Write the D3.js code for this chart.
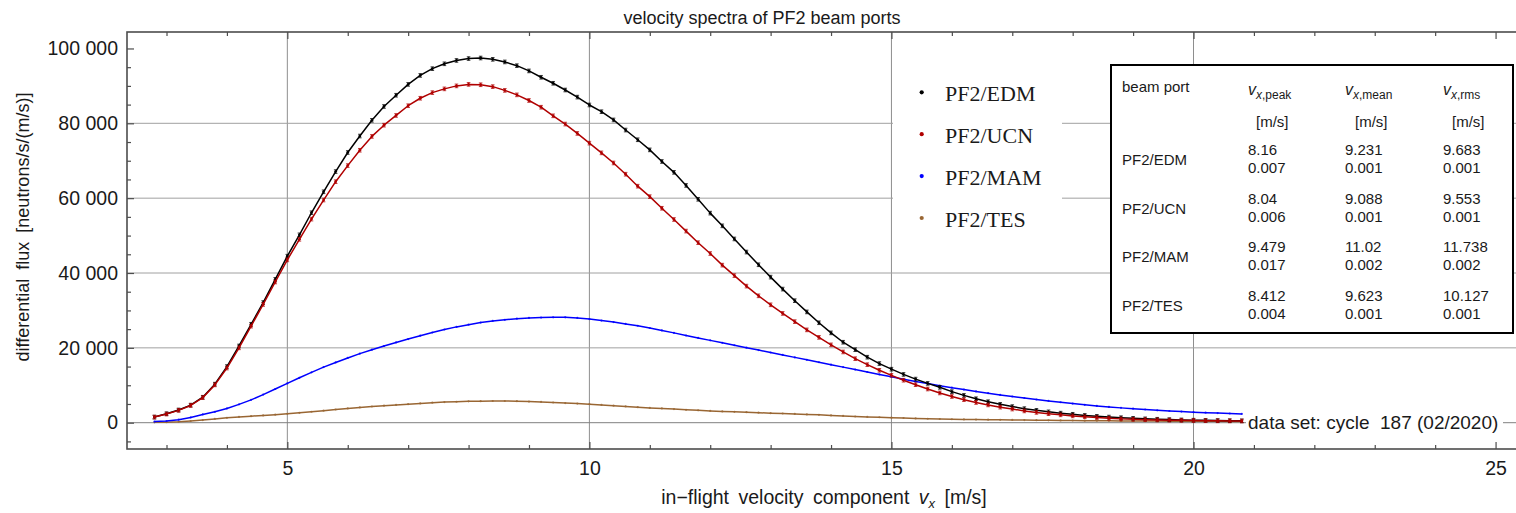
<!DOCTYPE html>
<html>
<head>
<meta charset="utf-8">
<script src="https://cdn.jsdelivr.net/npm/d3@7"></script>
<style>
  body { margin: 0; background: #fff; }
  svg { display: block; }
  text { font-family: "Liberation Sans", Arial, Helvetica, sans-serif; fill: #1a1a1a; }
</style>
</head>
<body>
<svg id="chart" width="1516" height="513"></svg>
<script>
// In-flight velocity component v_x [m/s] of each sample
const velocity = [
  2.8, 3.0, 3.2, 3.4, 3.6, 3.8, 4.0, 4.2, 4.4, 4.6,
  4.8, 5.0, 5.2, 5.4, 5.6, 5.8, 6.0, 6.2, 6.4, 6.6,
  6.8, 7.0, 7.2, 7.4, 7.6, 7.8, 8.0, 8.2, 8.4, 8.6,
  8.8, 9.0, 9.2, 9.4, 9.6, 9.8, 10.0, 10.2, 10.4, 10.6,
  10.8, 11.0, 11.2, 11.4, 11.6, 11.8, 12.0, 12.2, 12.4, 12.6,
  12.8, 13.0, 13.2, 13.4, 13.6, 13.8, 14.0, 14.2, 14.4, 14.6,
  14.8, 15.0, 15.2, 15.4, 15.6, 15.8, 16.0, 16.2, 16.4, 16.6,
  16.8, 17.0, 17.2, 17.4, 17.6, 17.8, 18.0, 18.2, 18.4, 18.6,
  18.8, 19.0, 19.2, 19.4, 19.6, 19.8, 20.0, 20.2, 20.4, 20.6,
  20.8
];

// Differential flux [neutrons/s/(m/s)] per beam port
const fluxEDM = [
  1500, 2400, 3400, 4700, 6800, 10300, 15000, 20500, 26300, 32100,
  38300, 44500, 50200, 56100, 61700, 67100, 72200, 76600, 80800, 84500,
  87500, 90400, 92800, 94600, 95900, 96800, 97300, 97450, 97100, 96400,
  95400, 94000, 92300, 90700, 88900, 87000, 84900, 83100, 80900, 78200,
  75600, 72900, 69800, 66900, 63400, 59700, 56000, 52600, 49100, 45600,
  42200, 38900, 35700, 32600, 29600, 26700, 24000, 21500, 19500, 17500,
  15800, 14300, 12900, 11650, 10500, 9450, 8300, 7300, 6400, 5600,
  4900, 4300, 3750, 3300, 2900, 2550, 2250, 1950, 1700, 1500,
  1330, 1170, 1030, 920, 820, 740, 670, 620, 575, 535,
  500
];
const fluxUCN = [
  1500, 2300, 3300, 4600, 6700, 10100, 14600, 20000, 25800, 31600,
  37600, 43500, 49000, 54400, 59500, 64400, 68700, 72800, 76500, 79500,
  82100, 84700, 86700, 88200, 89200, 90000, 90400, 90300, 89800, 88800,
  87600, 86100, 84300, 82000, 79800, 77300, 74700, 72100, 69400, 66400,
  63200, 60400, 57300, 54300, 51200, 48100, 45200, 42100, 39300, 36500,
  33900, 31500, 29200, 27000, 24800, 22800, 20800, 18900, 17100, 15500,
  14000, 12650, 11350, 10150, 9000, 7950, 7000, 6150, 5400, 4750,
  4150, 3650, 3150, 2750, 2400, 2100, 1820, 1580, 1370, 1180,
  1020, 900, 810, 740, 680, 630, 585, 545, 505, 475,
  450
];
const fluxMAM = [
  300, 450, 800, 1400, 2200, 2900, 3800, 4900, 6100, 7500,
  9000, 10500, 12000, 13450, 14850, 16100, 17300, 18450, 19500, 20500,
  21450, 22350, 23250, 24100, 24900, 25600, 26200, 26750, 27200, 27500,
  27800, 28000, 28100, 28150, 28150, 28000, 27700, 27300, 26900, 26400,
  25900, 25300, 24650, 24000, 23300, 22650, 22000, 21350, 20700, 20050,
  19400, 18750, 18100, 17450, 16800, 16150, 15500, 14850, 14200, 13550,
  12900, 12250, 11600, 11000, 10450, 9900, 9350, 8850, 8350, 7880,
  7420, 7000, 6600, 6200, 5820, 5460, 5110, 4780, 4470, 4200,
  3960, 3740, 3520, 3310, 3130, 2970, 2820, 2680, 2560, 2450,
  2350
];
const fluxTES = [
  100, 150, 250, 450, 700, 1000, 1300, 1550, 1750, 1950,
  2150, 2380, 2640, 2920, 3220, 3520, 3820, 4080, 4330, 4550,
  4750, 4950, 5150, 5350, 5500, 5600, 5700, 5750, 5800, 5800,
  5750, 5650, 5550, 5400, 5250, 5100, 4950, 4750, 4550, 4350,
  4150, 3950, 3800, 3650, 3450, 3300, 3150, 3000, 2900, 2800,
  2680, 2550, 2450, 2330, 2200, 2100, 1950, 1800, 1650, 1550,
  1450, 1350, 1250, 1150, 1050, 980, 920, 880, 840, 800,
  760, 730, 700, 670, 640, 610, 580, 550, 520, 500,
  480, 460, 440, 420, 400, 390, 380, 370, 360, 350,
  340
];

const portNames = ["PF2/EDM", "PF2/UCN", "PF2/MAM", "PF2/TES"];
const portColors = ["#000000", "#b00000", "#0000ff", "#996633"];

// Summary statistics of each spectrum [m/s]
const vPeak = [8.16, 8.04, 9.479, 8.412];
const vPeakErr = [0.007, 0.006, 0.017, 0.004];
const vMean = [9.231, 9.088, 11.02, 9.623];
const vMeanErr = [0.001, 0.001, 0.002, 0.001];
const vRms = [9.683, 9.553, 11.738, 10.127];
const vRmsErr = [0.001, 0.001, 0.002, 0.001];

const xTicks = [5, 10, 15, 20, 25];
const yTicks = [0, 20000, 40000, 60000, 80000, 100000];
const xGridValues = [5, 10, 15, 20];
const yGridValues = [0, 20000, 40000, 60000, 80000];

const dataSetNote = "data set: cycle\u00a0\u00a0187 (02/2020)";
const chartTitle = "velocity spectra of PF2 beam ports";

// ---------------------------------------------------------------
const svg = d3.select("#chart");
const frame = { left: 127, right: 1530, top: 32, bottom: 449 };

const x = d3.scaleLinear().domain([2.346, 25.57]).range([frame.left, frame.right]);
const y = d3.scaleLinear().domain([-7030, 104400]).range([frame.bottom, frame.top]);

const series = [fluxEDM, fluxUCN, fluxMAM, fluxTES].map((vals, i) => ({
  name: portNames[i],
  color: portColors[i],
  points: velocity.map((v, j) => ({ v, f: vals[j] }))
}));

// grid
const grid = svg.append("g").attr("class", "grid");
grid.selectAll("line.gx").data(xGridValues).join("line")
  .attr("x1", d => x(d)).attr("x2", d => x(d))
  .attr("y1", frame.top).attr("y2", frame.bottom)
  .attr("stroke", "#8e8e8e").attr("stroke-width", 1);
grid.selectAll("line.gy").data(yGridValues).join("line")
  .attr("x1", frame.left).attr("x2", frame.right)
  .attr("y1", d => y(d)).attr("y2", d => y(d))
  .attr("stroke", d => d === 0 ? "#808080" : "#a0a0a0").attr("stroke-width", 1);

// curves
const line = d3.line().x(d => x(d.v)).y(d => y(d.f)).curve(d3.curveLinear);
const curves = svg.append("g").attr("class", "curves");
// draw the weaker ports first so EDM/UCN lie on top
[3, 2, 0, 1].forEach(i => {
  const s = series[i];
  const g = curves.append("g");
  g.append("path").datum(s.points)
    .attr("d", line).attr("fill", "none")
    .attr("stroke", s.color).attr("stroke-width", 1.5)
    .attr("stroke-linejoin", "round");
  if (i < 2) {
    // small error-bar markers at every sample
    g.selectAll("path.mk").data(s.points).join("path")
      .attr("d", d => {
        const px = x(d.v), py = y(d.f);
        return `M${px - 1.8},${py - 1.8}h3.6M${px},${py - 1.8}v3.6M${px - 1.8},${py + 1.8}h3.6`;
      })
      .attr("fill", "none").attr("stroke", s.color).attr("stroke-width", 0.9)
      .attr("opacity", 0.85);
  }
  g.selectAll("circle").data(s.points).join("circle")
    .attr("cx", d => x(d.v)).attr("cy", d => y(d.f))
    .attr("r", i < 2 ? 1.4 : 1.1).attr("fill", s.color)
    .attr("opacity", i < 2 ? 1 : 0.8);
});

// frame
svg.append("rect")
  .attr("x", frame.left).attr("y", frame.top)
  .attr("width", frame.right - frame.left).attr("height", frame.bottom - frame.top)
  .attr("fill", "none").attr("stroke", "#4d4d4d").attr("stroke-width", 1.6);

// axes (ticks point inward)
const tickFont = "19.5px";
const xMinor = d3.range(3, 26, 1).filter(v => v % 5 !== 0);
const yMinor = d3.range(-5000, 104001, 5000).filter(v => v % 20000 !== 0);

function styleAxis(g) {
  g.select(".domain").remove();
  g.selectAll(".tick line").attr("stroke", "#4d4d4d").attr("stroke-width", 1.2);
  g.selectAll("text").style("font-size", tickFont).attr("fill", "#1a1a1a");
}

svg.append("g").attr("transform", `translate(0,${frame.bottom})`)
  .call(d3.axisBottom(x).tickValues(xTicks).tickSize(-7).tickPadding(12).tickFormat(d3.format("d")))
  .call(styleAxis);
svg.append("g").attr("transform", `translate(0,${frame.bottom})`)
  .call(d3.axisBottom(x).tickValues(xMinor).tickSize(-4).tickFormat(""))
  .call(styleAxis);
svg.append("g").attr("transform", `translate(0,${frame.top})`)
  .call(d3.axisTop(x).tickValues(xTicks).tickSize(-7).tickFormat(""))
  .call(styleAxis);
svg.append("g").attr("transform", `translate(0,${frame.top})`)
  .call(d3.axisTop(x).tickValues(xMinor).tickSize(-4).tickFormat(""))
  .call(styleAxis);

const yFormat = d => d3.format(",")(d).replace(/,/g, " ");
svg.append("g").attr("transform", `translate(${frame.left},0)`)
  .call(d3.axisLeft(y).tickValues(yTicks).tickSize(-7).tickPadding(9).tickFormat(yFormat))
  .call(styleAxis);
svg.append("g").attr("transform", `translate(${frame.left},0)`)
  .call(d3.axisLeft(y).tickValues(yMinor).tickSize(-4).tickFormat(""))
  .call(styleAxis);

// title and axis labels
svg.append("text")
  .attr("x", 762).attr("y", 24).attr("text-anchor", "middle")
  .style("font-size", "18px").text(chartTitle);

const xLabel = svg.append("text")
  .attr("x", 824).attr("y", 504).attr("text-anchor", "middle")
  .style("font-size", "19.5px").style("word-spacing", "4px");
xLabel.append("tspan").text("in\u2212flight velocity component ");
xLabel.append("tspan").style("font-style", "italic").text("v");
xLabel.append("tspan").attr("dy", 4).style("font-size", "13px").style("font-style", "italic").text("x");
xLabel.append("tspan").attr("dy", -4).text(" [m/s]");

svg.append("text")
  .attr("transform", "translate(29,227) rotate(-90)")
  .attr("text-anchor", "middle")
  .style("font-size", "18px").style("word-spacing", "4px")
  .text("differential flux [neutrons/s/(m/s)]");

// legend
const legend = svg.append("g").attr("class", "legend");
legend.append("rect").attr("x", 893).attr("y", 62).attr("width", 169).attr("height", 180).attr("fill", "#fff");
const legendItem = legend.selectAll("g.item").data(series).join("g")
  .attr("transform", (d, i) => `translate(0,${101 + i * 41.9})`);
legendItem.append("circle").attr("cx", 921.7).attr("cy", -8.7).attr("r", 2.1).attr("fill", d => d.color);
legendItem.append("text").attr("x", 945).attr("y", 0)
  .style("font-family", "'Liberation Serif', 'Times New Roman', serif")
  .style("font-size", "22px").text(d => d.name);

// statistics table
const table = svg.append("g").attr("class", "stats");
table.append("rect").attr("x", 1111).attr("y", 65).attr("width", 402).attr("height", 268)
  .attr("fill", "#fff").attr("stroke", "#000").attr("stroke-width", 2);
const colX = [1248, 1345, 1443];
const unitX = [1256, 1355, 1452];
const colSub = ["peak", "mean", "rms"];
table.append("text").attr("x", 1122).attr("y", 92).style("font-size", "15px").text("beam port");
colX.forEach((cx, k) => {
  const t = table.append("text").attr("x", cx).attr("y", 95).style("font-size", "16px");
  t.append("tspan").style("font-style", "italic").text("v");
  const sub = t.append("tspan").attr("dy", 4).style("font-size", "12px");
  sub.append("tspan").style("font-style", "italic").text("x");
  sub.append("tspan").text("," + colSub[k]);
  table.append("text").attr("x", unitX[k]).attr("y", 127).style("font-size", "15px").text("[m/s]");
});
const stats = [[vPeak, vPeakErr], [vMean, vMeanErr], [vRms, vRmsErr]];
portNames.forEach((name, i) => {
  const base = 155 + i * 48.7;
  table.append("text").attr("x", 1122).attr("y", base + 10).style("font-size", "15px").text(name);
  stats.forEach(([val, err], k) => {
    table.append("text").attr("x", colX[k]).attr("y", base).style("font-size", "15px").text(String(val[i]));
    table.append("text").attr("x", colX[k]).attr("y", base + 18).style("font-size", "15px").text(String(err[i]));
  });
});

// data set note on the zero line
const note = svg.append("g");
note.append("rect").attr("x", 1246).attr("y", 411).attr("width", 257).attr("height", 23).attr("fill", "#fff");
note.append("text").attr("x", 1248).attr("y", 429).style("font-size", "19px").text(dataSetNote);
</script>
</body>
</html>
